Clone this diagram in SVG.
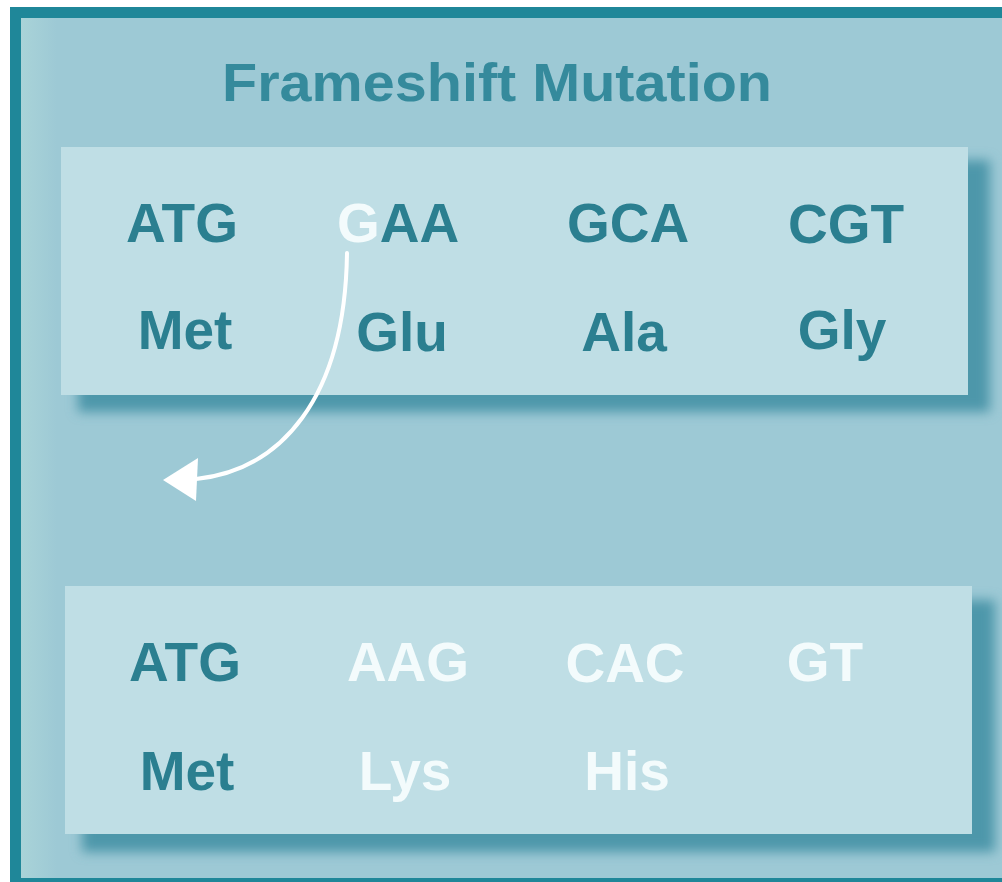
<svg xmlns="http://www.w3.org/2000/svg" width="1002" height="882" viewBox="0 0 1002 882">
  <defs>
    <style>
      .t { font-family: "Liberation Sans", Arial, sans-serif; font-weight: bold; font-size: 55px; text-anchor: middle; }
      .dk { fill: #2b7f90; }
      .wh { fill: #f3fbfc; }
      .title { font-family: "Liberation Sans", Arial, sans-serif; font-weight: bold; font-size: 54px; text-anchor: middle; fill: #358a9c; }
      .panel { fill: #bfdee5; }
      .shadow { fill: #4e97aa; filter: url(#blur); }
      .conn { fill: none; stroke: #ffffff; stroke-width: 4; stroke-linecap: round; }
    </style>
    <filter id="blur" x="-10%" y="-10%" width="120%" height="130%">
      <feGaussianBlur stdDeviation="6"/>
    </filter>
    <linearGradient id="leftg" x1="0" y1="0" x2="1" y2="0">
      <stop offset="0" stop-color="#a9d3d8"/>
      <stop offset="1" stop-color="#9dc9d5"/>
    </linearGradient>
  </defs>

  <rect x="10" y="7" width="992" height="875" fill="#1f8799"/>
  <rect x="21" y="18" width="981" height="860" fill="#9dc9d5"/>
  <rect x="21" y="18" width="36" height="860" fill="url(#leftg)"/>

  <text class="title" x="497" y="101" textLength="550" lengthAdjust="spacingAndGlyphs">Frameshift Mutation</text>

  <g id="original">
    <rect class="shadow" x="78" y="160" width="912" height="252"/>
    <rect class="panel" x="61" y="147" width="907" height="248"/>
    <text class="t dk" x="182" y="242">ATG</text>
    <text class="t dk" x="398" y="242"><tspan class="wh">G</tspan>AA</text>
    <text class="t dk" x="628" y="242">GCA</text>
    <text class="t dk" x="846" y="243">CGT</text>
    <text class="t dk" x="185" y="349">Met</text>
    <text class="t dk" x="402" y="351">Glu</text>
    <text class="t dk" x="624" y="351">Ala</text>
    <text class="t dk" x="842" y="349">Gly</text>
  </g>

  <g id="mutated">
    <rect class="shadow" x="82" y="600" width="913" height="252"/>
    <rect class="panel" x="65" y="586" width="907" height="248"/>
    <text class="t dk" x="185" y="681">ATG</text>
    <text class="t wh" x="408" y="681">AAG</text>
    <text class="t wh" x="625" y="682">CAC</text>
    <text class="t wh" x="825" y="681">GT</text>
    <text class="t dk" x="187" y="790">Met</text>
    <text class="t wh" x="405" y="790">Lys</text>
    <text class="t wh" x="627" y="790">His</text>
  </g>

  <g id="connectors">
    <path class="conn" d="M347,253 C345,400 280,470 196,479"/>
    <polygon points="163,480 198,458 196,501" fill="#ffffff"/>
  </g>
</svg>
